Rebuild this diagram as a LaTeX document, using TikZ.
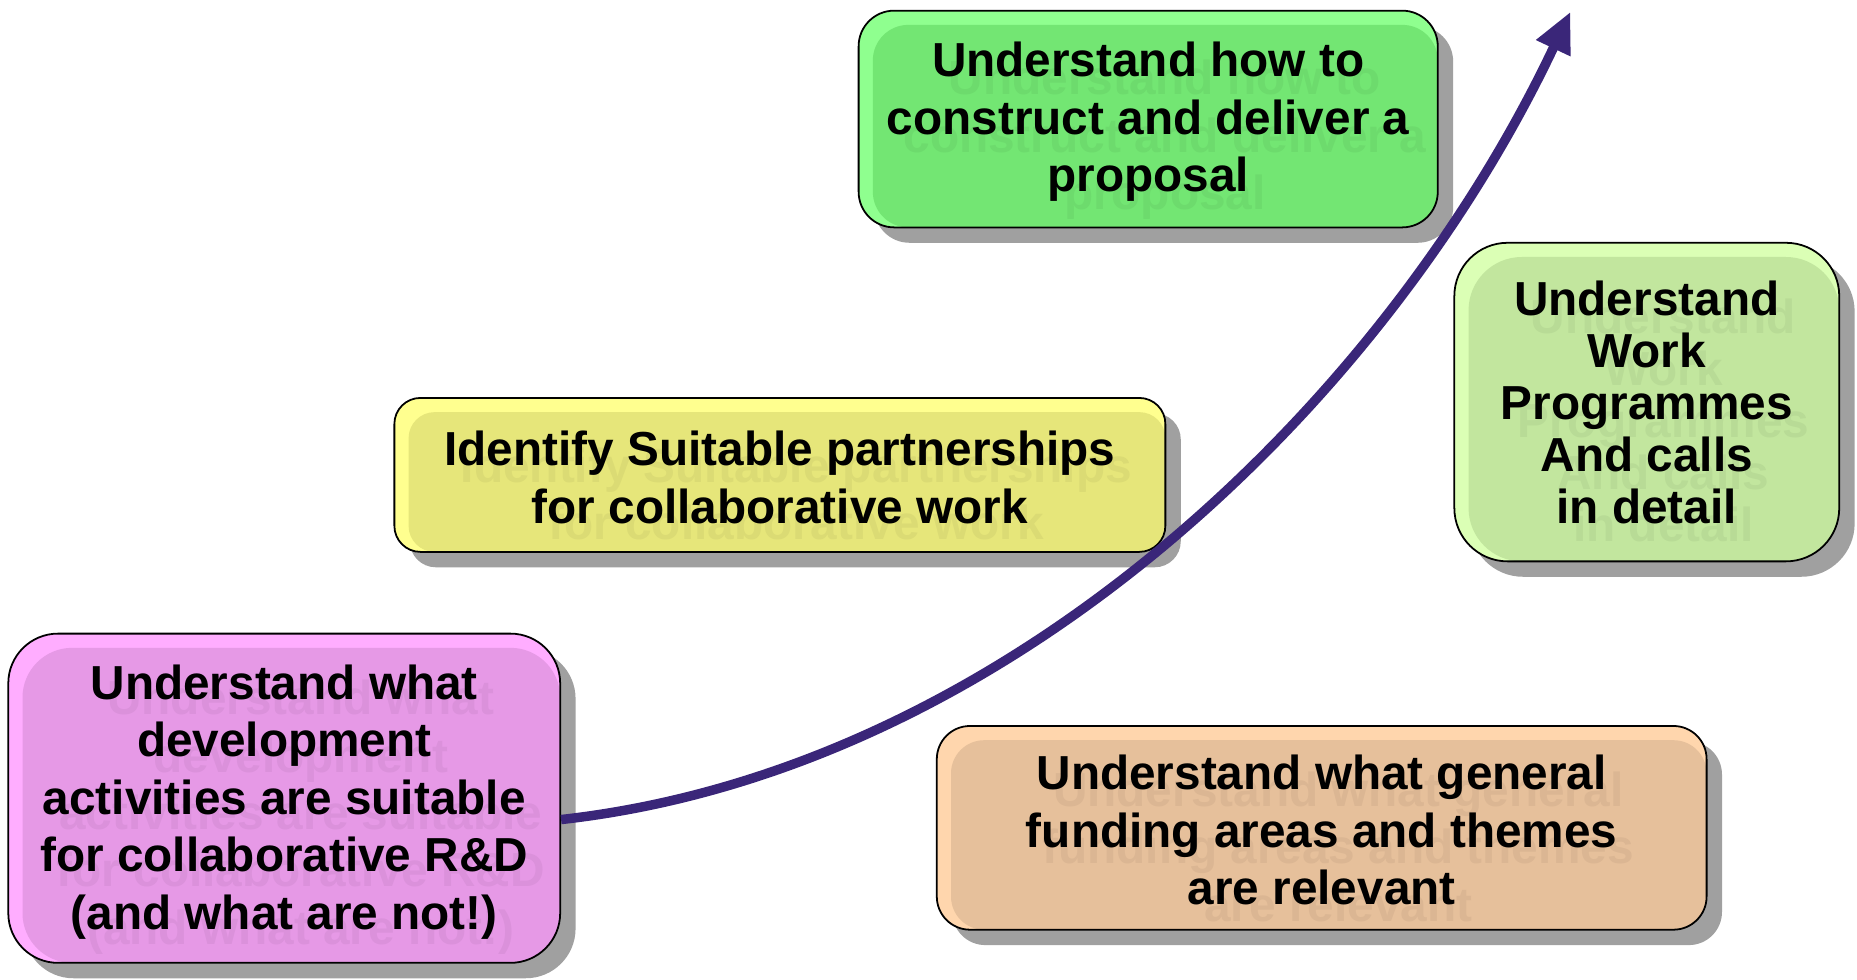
\documentclass[tikz,border=0pt]{standalone}
\usepackage{fontspec}
\setmainfont{Liberation Sans}
\usetikzlibrary{arrows.meta,shadows}

\definecolor{pinkhi}{HTML}{FFADFF}
\definecolor{pinklo}{HTML}{E699E6}
\definecolor{yellowhi}{HTML}{FFFF8F}
\definecolor{yellowlo}{HTML}{E6E67A}
\definecolor{greenhi}{HTML}{8FFF8F}
\definecolor{greenlo}{HTML}{73E673}
\definecolor{limehi}{HTML}{DBFFB5}
\definecolor{limelo}{HTML}{C2E69E}
\definecolor{peachhi}{HTML}{FFD6AD}
\definecolor{peachlo}{HTML}{E6C09B}
\definecolor{shadowgray}{HTML}{A0A0A0}
\definecolor{routecolor}{HTML}{3A2679}

\tikzset{
  card/.style n args={3}{draw=black, line width=1.5pt, rounded corners=#3, fill=#1,
    inner sep=0pt,
    drop shadow={shadow xshift=13pt, shadow yshift=-13pt, fill=shadowgray, opacity=1},
    path picture={\fill[#2, rounded corners=#3]
      ([xshift=12pt,yshift=-12pt]path picture bounding box.north west)
      rectangle (path picture bounding box.south east);}},
  cardtext/.style={align=center, inner sep=0pt, font=\bfseries\fontsize{40.3}{48.5}\selectfont},
  ghost/.style={cardtext, text=#1},
  route/.style={draw=routecolor, line width=8pt, -{Triangle[length=34pt,width=30pt]}}
}

\begin{document}
\begin{tikzpicture}[x=1pt,y=-1pt]
  \useasboundingbox (0,0) rectangle (1568,827);

  % boxes
  \node[card={pinkhi}{pinklo}{42pt}, minimum width=466pt, minimum height=278pt] (activities) at (240,674) {};
  \node[ghost=pinklo!95!black] (activities ghost) at (254,690) {Understand what\\development\\activities are suitable\\for collaborative R\&D\\(and what are not!)};
  \node[cardtext] (activities text) at (240,677) {Understand what\\development\\activities are suitable\\for collaborative R\&D\\(and what are not!)};

  \node[card={peachhi}{peachlo}{28pt}, minimum width=650pt, minimum height=172pt] (funding) at (1116,699) {};
  \node[ghost=peachlo!95!black] (funding ghost) at (1130,715) {Understand what general\\funding areas and themes\\are relevant};
  \node[cardtext] (funding text) at (1116,701) {Understand what general\\funding areas and themes\\are relevant};

  \node[card={yellowhi}{yellowlo}{22pt}, minimum width=651pt, minimum height=130pt] (partners) at (658.5,401) {};
  \node[ghost=yellowlo!95!black] (partners ghost) at (672.5,417) {Identify Suitable partnerships\\for collaborative work};
  \node[cardtext] (partners text) at (658.5,403) {Identify Suitable partnerships\\for collaborative work};

  \node[card={greenhi}{greenlo}{30pt}, minimum width=489pt, minimum height=183pt] (proposal) at (969.5,100.5) {};
  \node[ghost=greenlo!95!black] (proposal ghost) at (983.5,118) {Understand how to\\construct and deliver a\\proposal};
  \node[cardtext] (proposal text) at (969.5,103) {Understand how to\\construct and deliver a\\proposal};

  \node[card={limehi}{limelo}{45pt}, minimum width=325pt, minimum height=269pt] (programmes) at (1390.5,339.5) {};
  \node[ghost=limelo!95!black, font=\bfseries\fontsize{40.3}{44}\selectfont] (programmes ghost) at (1404.5,355) {Understand\\Work\\Programmes\\And calls\\in detail};
  \node[cardtext, font=\bfseries\fontsize{40.3}{44}\selectfont] (programmes text) at (1390.5,340) {Understand\\Work\\Programmes\\And calls\\in detail};

  % rising arrow
  \coordinate (tip) at (1326,10);
  \draw[route] ([yshift=-18pt]activities.east) .. controls (850,650) and (1170,340) .. (tip);
\end{tikzpicture}
\end{document}
